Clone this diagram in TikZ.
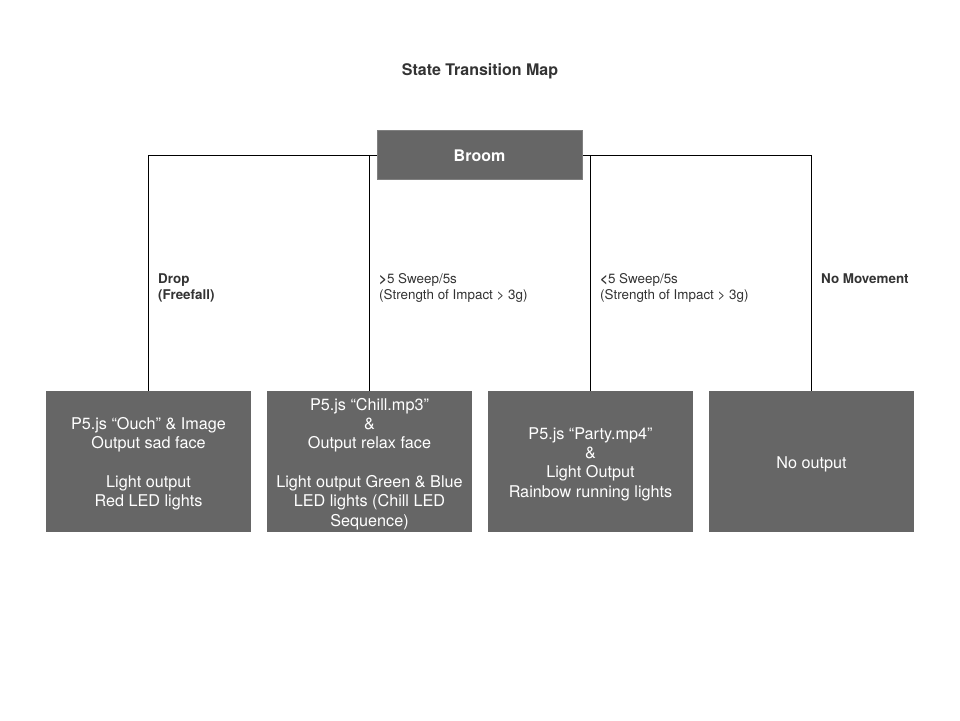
\documentclass[tikz,border=0pt]{standalone}
\usepackage{fontspec}
\setmainfont{TeX Gyre Heros}
\definecolor{boxgray}{HTML}{666666}
\definecolor{edgegray}{HTML}{808080}
\newcommand\mytopstrut{\rule{0pt}{17pt}}
\begin{document}
\begin{tikzpicture}[x=1pt,y=-1pt,
  outbox/.style={fill=boxgray,draw=none,minimum width=205pt,minimum height=141pt,inner sep=0pt,
     text=white,align=center,font=\fontsize{16.2}{19.3}\selectfont},
  topbox/.style={fill=boxgray,draw=edgegray,line width=0.8pt,minimum width=205pt,minimum height=49pt,inner sep=0pt,
     text=white,font=\fontsize{16}{18}\selectfont\bfseries},
  lbl/.style={anchor=north west,align=left,inner sep=0pt,text=black!80,font=\fontsize{13.4}{16}\selectfont},
  conn/.style={draw=black,line width=0.9pt}]
\useasboundingbox (0,0) rectangle (960,720);
\node[font=\fontsize{16}{18}\selectfont\bfseries,text=black!80] (title) at (480,71) {State Transition Map};
\node[outbox] (b1) at (148.5,461.5) {\mytopstrut P5.js “Ouch” \& Image\\Output sad face\\[19.3pt]Light output\\Red LED lights};
\node[outbox] (b2) at (369.5,461.5) {\mytopstrut P5.js “Chill.mp3”\\\&\\Output relax face\\[19.3pt]Light output Green \& Blue\\LED lights (Chill LED\\Sequence)};
\node[outbox] (b3) at (590.5,461.5) {\mytopstrut P5.js “Party.mp4”\\\&\\Light Output\\Rainbow running lights};
\node[outbox] (b4) at (811.5,461.5) {\mytopstrut No output};
\draw[conn] (b1.north) |- (479.5,155);
\draw[conn] (b2.north) -- (b2.north |- 0,155);
\draw[conn] (b3.north) -- (b3.north |- 0,155);
\draw[conn] (b4.north) |- (479.5,155);
\node[topbox] (broom) at (479.5,154.5) {\rule{0pt}{14pt}Broom};
\node[lbl] (l1) at (158,273.5) {\textbf{Drop}\\\textbf{(Freefall)}};
\node[lbl] (l2) at (379,273.5) {\textbf{>}5 Sweep/5s\\(Strength of Impact > 3g)};
\node[lbl] (l3) at (600,273.5) {\textbf{<}5 Sweep/5s\\(Strength of Impact > 3g)};
\node[lbl] (l4) at (821,273.5) {\textbf{No Movement}};
\end{tikzpicture}
\end{document}
